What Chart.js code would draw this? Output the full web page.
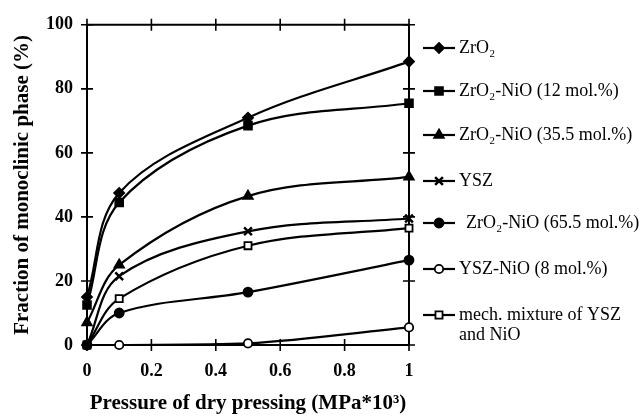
<!DOCTYPE html>
<html>
<head>
<meta charset="utf-8">
<script src="https://cdn.jsdelivr.net/npm/chart.js@4/dist/chart.umd.min.js"></script>
<style>
html,body{margin:0;padding:0;background:#fff;}
#wrap{width:642px;height:416px;position:relative;}
</style>
</head>
<body>
<div id="wrap"><canvas id="c" width="642" height="416"></canvas></div>
<script>
// ---- data ----
const pressure = [0, 0.1, 0.5, 1];
const zro2      = [15, 47.5, 71, 88.5];
const zro2Ni12  = [12.5, 44.5, 68.5, 75.5];
const zro2Ni355 = [7, 25, 46.5, 52.5];
const ysz       = [0, 21.5, 35.5, 39.5];
const zro2Ni655 = [0, 10, 16.5, 26.5];
const yszNi8    = [0, 0, 0.5, 5.5];
const mechMix   = [0, 14.5, 31, 36.5];

const seriesLabels = [
  'ZrO₂',
  'ZrO₂-NiO (12 mol.%)',
  'ZrO₂-NiO (35.5 mol.%)',
  'YSZ',
  'ZrO₂-NiO (65.5 mol.%)',
  'YSZ-NiO (8 mol.%)',
  ['mech. mixture of YSZ', 'and NiO']
];
const xTickLabels = ['0', '0.2', '0.4', '0.6', '0.8', '1'];
const yTickLabels = ['0', '20', '40', '60', '80', '100'];
const xTitle = 'Pressure of dry pressing (MPa*10³)';
const yTitle = 'Fraction of monoclinic phase (%)';

// ---- styles ----
const markers = [
  {style:'rectRot', r:5, fill:'#000'},
  {style:'rect', r:5.5, fill:'#000'},
  {style:'triangle', r:5.5, fill:'#000'},
  {style:'crossRot', r:5.5, fill:'#000'},
  {style:'circle', r:4.5, fill:'#000'},
  {style:'circle', r:4.2, fill:'#fff'},
  {style:'rect', r:5, fill:'#fff'}
];
const allValues = [zro2, zro2Ni12, zro2Ni355, ysz, zro2Ni655, yszNi8, mechMix];

const datasets = allValues.map((vals, i) => ({
  label: Array.isArray(seriesLabels[i]) ? seriesLabels[i].join(' ') : seriesLabels[i],
  data: pressure.map((p, j) => ({x: p, y: vals[j]})),
  borderColor: '#000',
  borderWidth: 2.2,
  backgroundColor: markers[i].fill,
  pointStyle: markers[i].style,
  pointRadius: markers[i].r,
  pointBorderWidth: markers[i].style === 'crossRot' ? 2.5 : 1.8,
  pointBorderColor: '#000',
  pointBackgroundColor: markers[i].fill,
  tension: 0.35,
  fill: false,
  clip: false
}));

const SERIF = '"Liberation Serif", "DejaVu Serif", serif';

const framePlugin = {
  id: 'frame',
  beforeDatasetsDraw(chart) {
    const {ctx, chartArea: a, scales} = chart;
    const xs = scales.x, ys = scales.y;
    ctx.save();
    ctx.strokeStyle = '#000';
    ctx.lineWidth = 2;
    ctx.beginPath();
    ctx.rect(a.left, a.top, a.right - a.left, a.bottom - a.top);
    ctx.stroke();
    const t = 6;
    ctx.lineWidth = 1.6;
    ctx.beginPath();
    for (let i = 0; i < xTickLabels.length; i++) {
      const px = xs.getPixelForValue(Number(xTickLabels[i]));
      ctx.moveTo(px, a.bottom - t); ctx.lineTo(px, a.bottom + t);
      ctx.moveTo(px, a.top - t); ctx.lineTo(px, a.top + t);
    }
    for (let i = 0; i < yTickLabels.length; i++) {
      const py = ys.getPixelForValue(Number(yTickLabels[i]));
      ctx.moveTo(a.left - t, py); ctx.lineTo(a.left + t, py);
      ctx.moveTo(a.right - t, py); ctx.lineTo(a.right + t, py);
    }
    ctx.stroke();
    ctx.restore();
  }
};

function drawMarker(ctx, m, x, y) {
  ctx.save();
  ctx.fillStyle = m.fill;
  ctx.strokeStyle = '#000';
  ctx.lineWidth = m.style === 'crossRot' ? 2.5 : 1.8;
  const r = m.r;
  ctx.beginPath();
  if (m.style === 'circle') {
    ctx.arc(x, y, r, 0, Math.PI * 2);
    ctx.fill(); ctx.stroke();
  } else if (m.style === 'rect') {
    const s = r * Math.SQRT1_2;
    ctx.rect(x - s, y - s, 2 * s, 2 * s);
    ctx.fill(); ctx.stroke();
  } else if (m.style === 'rectRot') {
    ctx.moveTo(x, y - r); ctx.lineTo(x + r, y); ctx.lineTo(x, y + r); ctx.lineTo(x - r, y); ctx.closePath();
    ctx.fill(); ctx.stroke();
  } else if (m.style === 'triangle') {
    ctx.moveTo(x, y - r); ctx.lineTo(x + r * 0.87, y + r * 0.5); ctx.lineTo(x - r * 0.87, y + r * 0.5); ctx.closePath();
    ctx.fill(); ctx.stroke();
  } else if (m.style === 'crossRot') {
    const s = r * Math.SQRT1_2;
    ctx.moveTo(x - s, y - s); ctx.lineTo(x + s, y + s);
    ctx.moveTo(x + s, y - s); ctx.lineTo(x - s, y + s);
    ctx.stroke();
  }
  ctx.restore();
}

const legendPlugin = {
  id: 'sideLegend',
  afterDraw(chart) {
    const ctx = chart.ctx;
    const ys = [48, 91, 135, 181, 223, 269, 315];
    const textX = [459, 459, 459, 459, 466, 459, 459];
    ctx.save();
    ctx.font = '18px ' + SERIF;
    ctx.fillStyle = '#000';
    ctx.textBaseline = 'middle';
    ctx.textAlign = 'left';
    seriesLabels.forEach((lab, i) => {
      const y = ys[i];
      ctx.strokeStyle = '#000';
      ctx.lineWidth = 2.2;
      ctx.beginPath();
      ctx.moveTo(423, y); ctx.lineTo(455, y);
      ctx.stroke();
      drawMarker(ctx, markers[i], 439, y);
      const lines = Array.isArray(lab) ? lab : [lab];
      lines.forEach((ln, k) => ctx.fillText(ln, textX[i], y + k * 20));
    });
    ctx.restore();
  }
};

new Chart(document.getElementById('c'), {
  type: 'line',
  data: { datasets },
  plugins: [framePlugin, legendPlugin],
  options: {
    responsive: false,
    animation: false,
    layout: { padding: { left: 0, right: 233, top: 24, bottom: 0 } },
    plugins: { legend: { display: false }, tooltip: { enabled: false } },
    scales: {
      x: {
        type: 'linear', min: 0, max: 1,
        afterFit: s => { s.height = 71; },
        grid: { display: false, drawTicks: false },
        border: { display: false },
        ticks: {
          stepSize: 0.2, padding: 16, color: '#000',
          font: { family: SERIF, size: 18, weight: 'bold' },
          callback: (v, i) => xTickLabels[i]
        },
        title: {
          display: true, text: xTitle, color: '#000',
          font: { family: SERIF, size: 21, weight: 'bold' },
          padding: { top: 0, bottom: 0 }
        }
      },
      y: {
        type: 'linear', min: 0, max: 100,
        afterFit: s => { s.width = 87; },
        grid: { display: false, drawTicks: false },
        border: { display: false },
        ticks: {
          stepSize: 20, padding: 14, color: '#000',
          font: { family: SERIF, size: 18, weight: 'bold' },
          callback: (v, i) => yTickLabels[i]
        },
        title: {
          display: true, text: yTitle, color: '#000',
          font: { family: SERIF, size: 21, weight: 'bold' },
          padding: { top: 10, bottom: 0 }
        }
      }
    }
  }
});
</script>
</body>
</html>
